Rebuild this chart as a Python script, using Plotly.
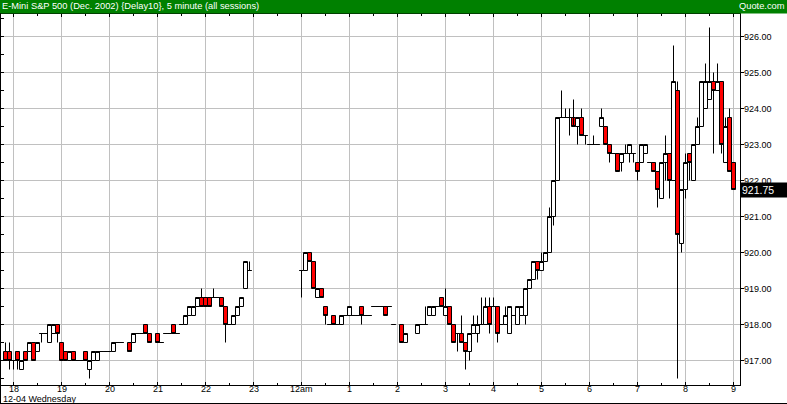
import plotly.graph_objects as go
from datetime import datetime, timedelta

# ---------------- data (5-minute bars, E-Mini S&P 500 Dec 2002) ----------------
times = [
    "17:50", "17:55",
    "18:00", "18:05", "18:10", "18:15", "18:20", "18:25", "18:30", "18:35", "18:40", "18:45", "18:50", "18:55",
    "19:00", "19:05", "19:10", "19:15", "19:20", "19:25", "19:30", "19:35", "19:40", "19:45", "19:50", "19:55",
    "20:00", "20:05", "20:10", "20:15", "20:25", "20:30", "20:35", "20:40", "20:45", "20:50",
    "21:00", "21:05", "21:10", "21:15", "21:20", "21:25", "21:30", "21:35", "21:40", "21:45", "21:50", "21:55",
    "22:00", "22:05", "22:10", "22:15", "22:20", "22:25", "22:30", "22:35", "22:40", "22:45", "22:50", "22:55",
    "00:00", "00:05", "00:10", "00:15", "00:20", "00:25", "00:30", "00:35", "00:40", "00:45", "00:50", "00:55",
    "01:00", "01:05", "01:10", "01:15", "01:20", "01:25", "01:30", "01:35", "01:40", "01:45", "01:50", "01:55",
    "02:05", "02:10", "02:25", "02:30", "02:35", "02:40", "02:45", "02:50", "02:55",
    "03:00", "03:05", "03:10", "03:15", "03:20", "03:25", "03:30", "03:35", "03:40", "03:45", "03:50", "03:55",
    "04:00", "04:05", "04:10", "04:15", "04:20", "04:25", "04:30", "04:35", "04:40", "04:45", "04:50", "04:55",
    "05:00", "05:05", "05:10", "05:15", "05:20", "05:25", "05:30", "05:35", "05:40", "05:45", "05:50", "05:55",
    "06:00", "06:05", "06:10", "06:15", "06:20", "06:25", "06:30", "06:35", "06:40", "06:45", "06:50", "06:55",
    "07:00", "07:05", "07:10", "07:15", "07:20", "07:25", "07:30", "07:35", "07:40", "07:45", "07:50", "07:55",
    "08:00", "08:05", "08:10", "08:15", "08:20", "08:25", "08:30", "08:35", "08:40", "08:45", "08:50", "08:55",
    "09:00",
]

opens = [
    917.25, 917.25,
    917.0, 917.25, 916.75, 917.25, 917.25, 917.5, 917.25, 917.75, 917.75, 917.5, 917.75, 918.0,
    917.5, 917.25, 917.0, 917.25, 917.0, 917.0, 917.25, 916.75, 917.0, 917.0, 917.25, 917.25,
    917.25, 917.25, 917.5, 917.5, 917.5, 917.5, 917.75, 917.75, 918.0, 917.75,
    917.75, 917.5, 917.75, 917.75, 918.0, 917.75, 918.0, 918.0, 918.25, 918.25, 918.5, 918.75,
    918.75, 918.75, 918.75, 918.75, 918.75, 918.5, 918.0, 918.0, 918.25, 918.5, 919.0, 919.5,
    919.5, 919.5, 920.0, 919.75, 918.75, 919.0, 918.5, 918.0, 918.25, 918.0, 918.0, 918.25,
    918.25, 918.25, 918.25, 918.5, 918.25, 918.25, 918.5, 918.5, 918.5, 918.5, 918.5, 918.0,
    918.0, 917.5, 917.75, 918.0, 918.0, 918.25, 918.25, 918.5, 918.75,
    918.25, 918.5, 918.0, 917.75, 917.75, 917.5, 917.25, 917.75, 917.75, 918.0, 918.0, 918.5,
    918.5, 918.5, 918.0, 918.0, 917.75, 918.25, 918.0, 918.25, 918.25, 919.0, 919.25, 919.75,
    919.5, 919.75, 920.0, 921.0, 922.0, 923.75, 923.75, 923.75, 923.75, 923.5, 923.75, 923.25,
    923.0, 923.0, 923.0, 923.5, 923.5, 923.0, 922.75, 922.75, 922.5, 922.75, 922.75, 922.75,
    922.5, 922.5, 922.75, 922.5, 922.5, 922.25, 921.5, 922.5, 922.75, 922.0, 924.5, 920.25,
    921.75, 922.75, 922.0, 923.0, 923.5, 924.0, 924.25, 924.75, 924.5, 924.75, 922.5, 923.75,
    922.5,
]

highs = [
    917.5, 917.5,
    917.0, 917.25, 917.0, 917.25, 917.5, 917.5, 917.5, 917.75, 917.75, 918.0, 918.0, 918.0,
    917.5, 917.25, 917.25, 917.25, 917.0, 917.0, 917.25, 917.0, 917.25, 917.25, 917.25, 917.25,
    917.25, 917.5, 917.5, 917.5, 917.5, 917.75, 917.75, 917.75, 918.0, 917.75,
    917.75, 917.5, 917.75, 917.75, 918.0, 917.75, 918.0, 918.25, 918.5, 918.5, 918.75, 919.0,
    918.75, 918.75, 919.0, 918.75, 918.75, 918.5, 918.0, 918.25, 918.5, 918.75, 919.75, 919.75,
    919.5, 920.0, 920.0, 919.75, 919.0, 919.0, 918.5, 918.0, 918.25, 918.0, 918.25, 918.25,
    918.5, 918.25, 918.25, 918.5, 918.25, 918.25, 918.5, 918.5, 918.5, 918.5, 918.5, 918.0,
    918.0, 917.75, 918.0, 918.0, 918.5, 918.5, 918.5, 918.5, 918.75,
    919.0, 918.5, 918.0, 917.75, 918.25, 917.5, 917.75, 918.25, 918.25, 918.75, 918.75, 918.75,
    918.75, 918.5, 918.0, 918.5, 918.5, 918.25, 918.5, 918.5, 919.0, 919.25, 919.75, 919.75,
    920.0, 920.0, 921.25, 922.0, 923.75, 924.5, 924.0, 924.0, 924.25, 923.75, 924.0, 923.25,
    923.0, 923.25, 923.0, 924.0, 923.5, 923.0, 922.75, 922.75, 922.75, 923.0, 923.0, 922.75,
    922.5, 923.0, 923.0, 922.5, 922.5, 922.25, 922.5, 923.25, 922.75, 925.75, 924.75, 921.75,
    922.75, 922.75, 923.0, 923.75, 924.75, 925.25, 926.25, 925.0, 925.25, 924.75, 923.75, 924.0,
    922.5,
]

lows = [
    917.0, 916.75,
    916.75, 916.75, 916.75, 917.0, 917.25, 917.0, 917.25, 917.5, 917.75, 917.5, 917.75, 917.5,
    917.0, 917.0, 917.0, 917.0, 917.0, 917.0, 917.0, 916.5, 917.0, 917.0, 917.25, 917.25,
    917.25, 917.25, 917.5, 917.5, 917.25, 917.5, 917.75, 917.75, 917.75, 917.5,
    917.5, 917.5, 917.75, 917.75, 917.75, 917.75, 918.0, 918.0, 918.25, 918.25, 918.5, 918.5,
    918.5, 918.5, 918.75, 918.75, 918.5, 917.5, 918.0, 918.0, 918.25, 918.5, 919.0, 919.5,
    918.75, 919.5, 919.75, 919.0, 918.75, 918.75, 918.0, 918.0, 918.0, 918.0, 918.0, 918.25,
    918.25, 918.25, 918.25, 918.0, 918.25, 918.25, 918.5, 918.5, 918.5, 918.25, 918.5, 918.0,
    917.5, 917.5, 917.75, 918.0, 918.0, 918.25, 918.25, 918.5, 918.5,
    918.25, 918.0, 917.5, 917.25, 917.5, 916.75, 917.0, 917.75, 917.5, 918.0, 918.0, 917.75,
    918.5, 917.5, 918.0, 918.0, 917.75, 918.25, 918.0, 918.25, 918.0, 919.0, 919.25, 919.25,
    919.5, 919.75, 920.0, 920.75, 922.0, 923.75, 923.75, 923.25, 923.75, 923.0, 923.25, 923.0,
    923.0, 923.0, 923.0, 923.5, 923.0, 922.5, 922.75, 922.25, 922.25, 922.75, 922.5, 922.5,
    922.0, 922.5, 922.75, 922.5, 922.25, 921.25, 921.5, 922.0, 921.5, 922.0, 916.5, 920.0,
    921.5, 922.0, 922.0, 923.0, 923.5, 924.0, 924.25, 922.75, 924.5, 922.75, 922.5, 922.25,
    921.75,
]

closes = [
    917.0, 917.0,
    917.0, 917.0, 917.0, 917.0, 917.5, 917.0, 917.5, 917.75, 917.75, 918.0, 918.0, 917.75,
    917.0, 917.0, 917.25, 917.0, 917.0, 917.0, 917.0, 917.0, 917.25, 917.25, 917.25, 917.25,
    917.25, 917.5, 917.5, 917.5, 917.25, 917.75, 917.75, 917.75, 917.75, 917.5,
    917.5, 917.5, 917.75, 917.75, 917.75, 917.75, 918.0, 918.25, 918.5, 918.5, 918.75, 918.5,
    918.5, 918.5, 918.75, 918.75, 918.5, 918.0, 918.0, 918.25, 918.5, 918.75, 919.75, 919.5,
    919.5, 920.0, 919.75, 919.0, 919.0, 918.75, 918.25, 918.0, 918.0, 918.0, 918.25, 918.25,
    918.5, 918.25, 918.25, 918.25, 918.25, 918.25, 918.5, 918.5, 918.5, 918.25, 918.5, 918.0,
    917.5, 917.75, 918.0, 918.0, 918.0, 918.5, 918.5, 918.5, 918.5,
    918.5, 918.0, 917.5, 917.75, 917.5, 917.25, 917.75, 918.0, 918.0, 918.0, 918.5, 918.0,
    918.5, 917.75, 918.0, 918.25, 918.5, 918.25, 918.5, 918.5, 919.0, 919.25, 919.75, 919.5,
    919.75, 920.0, 921.0, 922.0, 923.75, 923.75, 923.75, 923.75, 923.5, 923.75, 923.25, 923.25,
    923.0, 923.0, 923.0, 923.75, 923.0, 922.75, 922.75, 922.25, 922.75, 922.75, 923.0, 922.75,
    922.25, 923.0, 923.0, 922.5, 922.25, 921.75, 922.5, 922.75, 922.0, 924.75, 920.5, 921.75,
    922.5, 922.5, 923.0, 923.5, 924.75, 924.75, 924.75, 924.5, 924.75, 923.0, 923.5, 922.25,
    921.75,
]

hour_labels = ["18", "19", "20", "21", "22", "23", "12am", "1", "2", "3", "4", "5", "6", "7", "8", "9"]
price_ticks = [917, 918, 919, 920, 921, 922, 923, 924, 925, 926]
last_price = 921.75
title_text = "E-Mini S&P 500 (Dec. 2002) {Delay10}, 5 minute (all sessions)"
source_text = "Quote.com"
date_text = "12-04 Wednesday"

# ---------------- helpers ----------------
def to_dt(s):
    h, m = map(int, s.split(":"))
    day = 3 if h >= 17 else 4
    return datetime(2002, 12, day, h, m)

xs = [to_dt(t) for t in times]
start = datetime(2002, 12, 3, 18, 0)
hour_vals = [start + timedelta(hours=i) for i in range(len(hour_labels))]
half_vals = [start - timedelta(minutes=30) + timedelta(hours=i) for i in range(len(hour_labels) + 1)]

# layout geometry (pixels)
W, H = 787, 404
ML, MR, MT, MB = 1, 47, 14, 19
plot_w, plot_h = W - ML - MR, H - MT - MB       # 739 x 371

# x: 4 px per 5-minute bar, first bar (17:50) centred at pixel 5.5
px_per_min = 4 / 5
t0 = datetime(2002, 12, 3, 17, 50)
x_lo = t0 - timedelta(minutes=(5.5 - ML) / px_per_min)
x_hi = t0 + timedelta(minutes=(ML + plot_w - 5.5) / px_per_min)

# y: 36 px per point, 924.00 at pixel 108.5
px_per_pt = 36.0
y_hi = 924 + (108.5 - MT) / px_per_pt
y_lo = 924 - (MT + plot_h - 108.5) / px_per_pt
half_ticks = [916.5 + 0.5 * i for i in range(21)]

FONT = "Liberation Sans, Arial, sans-serif"

fig = go.Figure()
fig.add_trace(go.Candlestick(
    x=xs, open=opens, high=highs, low=lows, close=closes,
    increasing=dict(line=dict(color="black", width=1), fillcolor="#ffffff"),
    decreasing=dict(line=dict(color="black", width=1), fillcolor="#ff0000"),
    whiskerwidth=0, hoverinfo="x+y",
))
fig.add_trace(go.Scatter(x=xs, y=closes, mode="none", yaxis="y2",
                         hoverinfo="skip", showlegend=False))

fig.update_layout(
    width=W, height=H,
    margin=dict(l=ML, r=MR, t=MT, b=MB, pad=0),
    paper_bgcolor="white", plot_bgcolor="white",
    showlegend=False, boxgap=0, boxgroupgap=0,
    font=dict(family=FONT, size=9, color="black"),
    xaxis=dict(
        type="date", range=[x_lo, x_hi], rangeslider=dict(visible=False),
        tickmode="array", tickvals=hour_vals, ticktext=hour_labels, showticklabels=False,
        ticks="inside", ticklen=3, tickcolor="black", tickwidth=1,
        showline=True, linecolor="black", linewidth=1, mirror="ticks",
        showgrid=True, gridcolor="#c0c0c0", gridwidth=1, zeroline=False,
        minor=dict(tickmode="array", tickvals=half_vals, ticks="inside",
                   ticklen=2, tickcolor="black", showgrid=False),
    ),
    yaxis=dict(
        side="right", range=[y_lo, y_hi],
        tickmode="array", tickvals=price_ticks, showticklabels=False,
        ticks="outside", ticklen=3, tickcolor="black",
        showline=True, linecolor="black", linewidth=1,
        showgrid=True, gridcolor="#c0c0c0", gridwidth=1, zeroline=False,
    ),
    yaxis2=dict(
        overlaying="y", side="left", range=[y_lo, y_hi],
        tickmode="array", tickvals=half_ticks, ticks="inside", ticklen=3,
        tickcolor="black", showticklabels=False, showgrid=False,
        showline=True, linecolor="black", linewidth=1, zeroline=False,
    ),
)

def px_to_paper_y(py):
    return (MT + plot_h - py) / plot_h

def px_to_paper_x(px):
    return (px - ML) / plot_w

# green title bar
fig.add_shape(type="rect", xref="paper", yref="paper",
              x0=px_to_paper_x(0), x1=px_to_paper_x(W), y0=px_to_paper_y(13.5), y1=px_to_paper_y(0),
              fillcolor="#008000", line=dict(width=0), layer="above")
# bottom border and left border
fig.add_shape(type="line", xref="paper", yref="paper",
              x0=px_to_paper_x(0), x1=px_to_paper_x(W), y0=px_to_paper_y(403.5), y1=px_to_paper_y(403.5),
              line=dict(color="black", width=1))
fig.add_shape(type="line", xref="paper", yref="paper",
              x0=px_to_paper_x(0.5), x1=px_to_paper_x(0.5), y0=px_to_paper_y(H), y1=px_to_paper_y(13.5),
              line=dict(color="black", width=1))

# title texts
fig.add_annotation(text=title_text, xref="paper", yref="paper",
                   x=px_to_paper_x(1), y=px_to_paper_y(6.5), xanchor="left", yanchor="middle",
                   showarrow=False, borderpad=0, font=dict(family=FONT, size=9.3, color="white"))
fig.add_annotation(text=source_text, xref="paper", yref="paper",
                   x=px_to_paper_x(786), y=px_to_paper_y(6.5), xanchor="right", yanchor="middle",
                   showarrow=False, borderpad=0, font=dict(family=FONT, size=9.3, color="white"))

# hour labels along the bottom
for hv, lab in zip(hour_vals, hour_labels):
    fig.add_annotation(text=lab, xref="x", yref="paper", x=hv, y=px_to_paper_y(388.8),
                       xanchor="center", yanchor="middle", showarrow=False,
                       borderpad=0, font=dict(family=FONT, size=9, color="black"))
fig.add_annotation(text=date_text, xref="paper", yref="paper",
                   x=px_to_paper_x(2), y=px_to_paper_y(398.8), xanchor="left", yanchor="middle",
                   showarrow=False, borderpad=0, font=dict(family=FONT, size=9, color="black"))

# price labels on the right
for pv in price_ticks:
    fig.add_annotation(text=f"{pv:.2f}", xref="paper", yref="y", x=px_to_paper_x(743), y=pv,
                       xanchor="left", yanchor="middle", showarrow=False, borderpad=0,
                       font=dict(family=FONT, size=9, color="black"))

# last price box
fig.add_annotation(text=f"{last_price:.2f}", xref="paper", yref="y",
                   x=px_to_paper_x(740), y=last_price, xanchor="left", yanchor="middle",
                   showarrow=False, bgcolor="black", borderpad=1, width=45, height=12,
                   align="left", font=dict(family=FONT, size=10.5, color="white"))

fig.write_html("out.html", config={"displayModeBar": False},
               post_script="document.body.style.margin='0px';")
